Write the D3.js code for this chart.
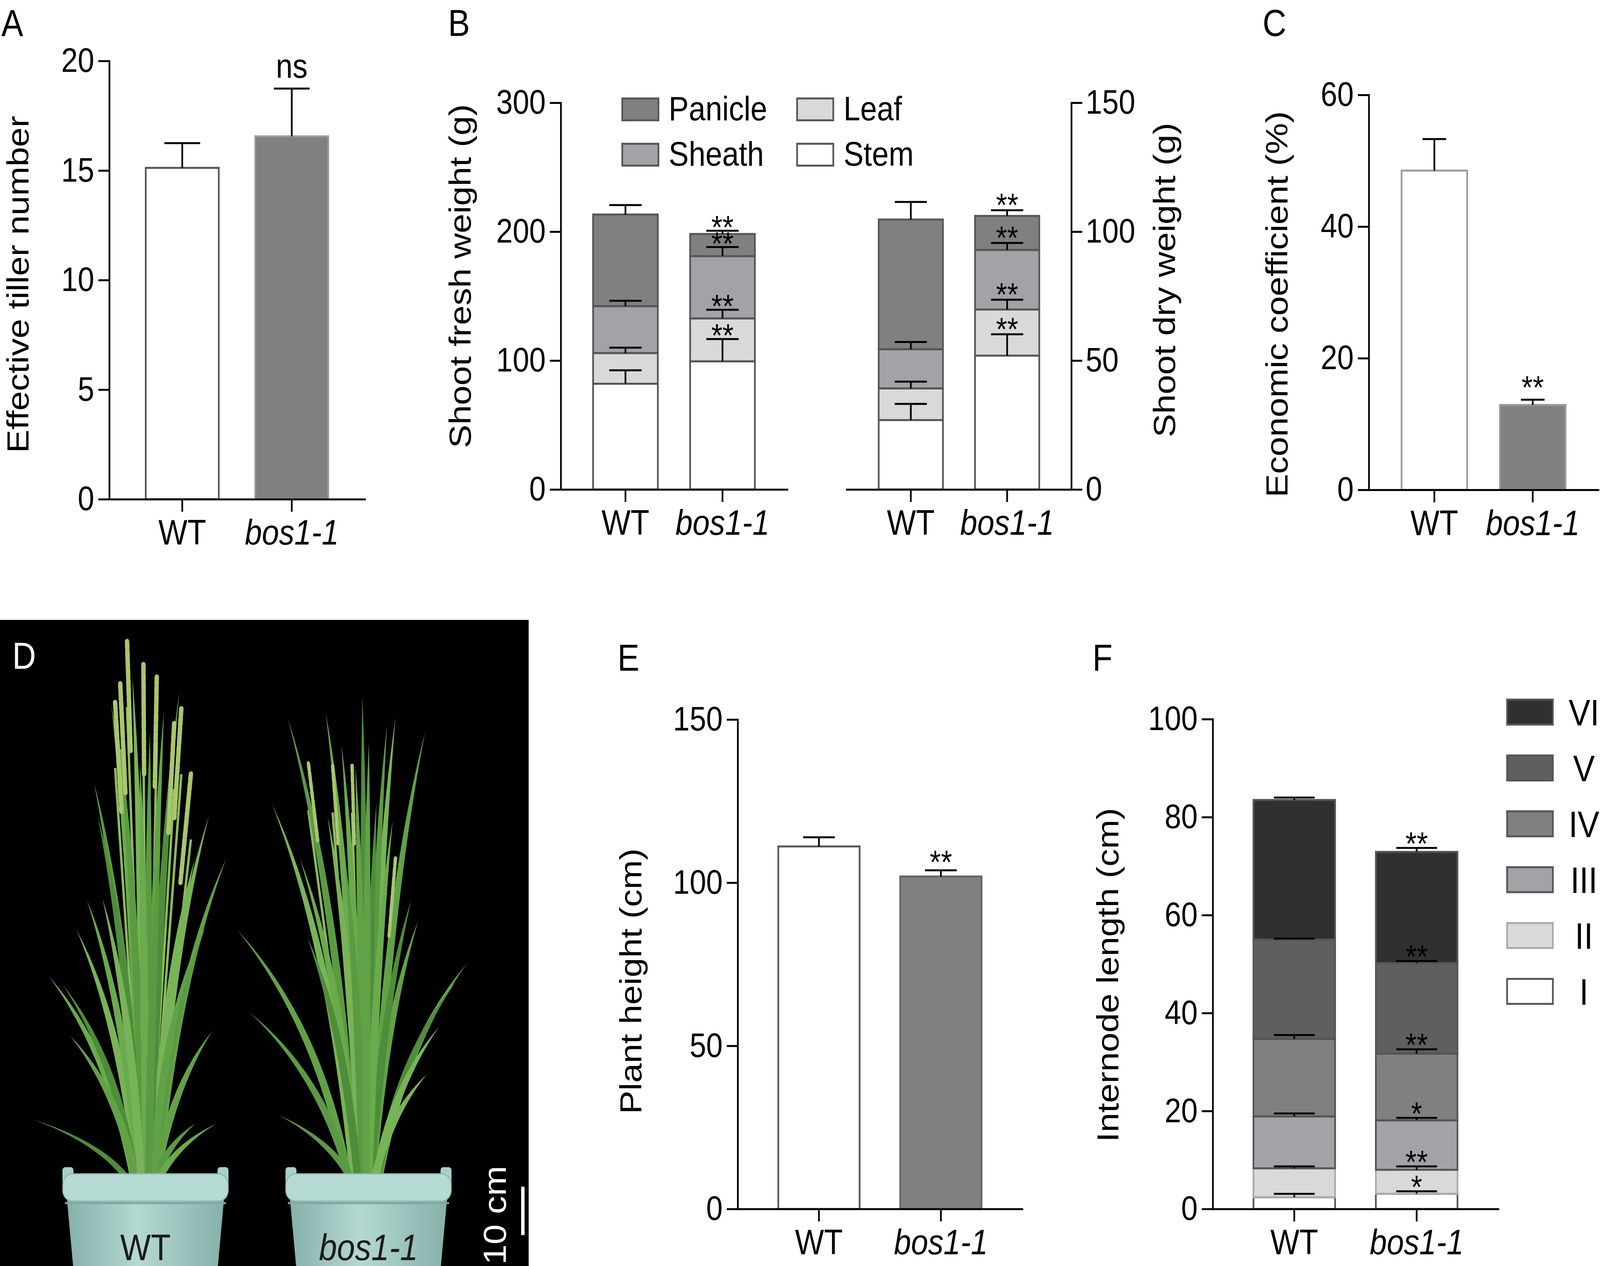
<!DOCTYPE html>
<html>
<head>
<meta charset="utf-8">
<title>bos1-1 phenotype figure</title>
<script src="https://cdn.jsdelivr.net/npm/d3@7"></script>
<style>
html, body { margin: 0; padding: 0; background: #fff; overflow: hidden; }
svg { display: block; width: 100vw; height: 100vh; font-family: "Liberation Sans", Arial, sans-serif; }
.axis path, .axis line { stroke: #000; stroke-width: 5; }
.axis path { stroke-linecap: square; }
.axis text { font-size: 87px; fill: #000; font-family: "Liberation Sans", Arial, sans-serif; }
.title { font-size: 90px; fill: #000; }
.letter { font-size: 96px; }
.sig { font-size: 84px; fill: #000; }
</style>
</head>
<body>
<!-- the window can be narrower than the figure, so the figure is stretched to fill it -->
<svg id="fig" viewBox="0 0 4685 3241" preserveAspectRatio="none"></svg>
<script>
// ---------- data ----------
var genotypes = ["WT", "bos1-1"];

// A  effective tillers
var tillerMean = [15.12, 16.56];
var tillerErr = [1.13, 2.18];
var tillerTicks = [0, 5, 10, 15, 20];

// B  shoot weight, segments bottom -> top
var organs = ["Stem", "Leaf", "Sheath", "Panicle"];
var freshWT = [82.0, 23.8, 36.4, 71.1];
var freshWTErr = [10.4, 4.2, 4.2, 7.3];
var freshBos = [99.4, 33.3, 48.3, 17.2];
var freshBosErr = [17.3, 6.7, 7.0, 2.5];
var freshBosSig = ["**", "**", "**", "**"];
var dryWT = [26.9, 12.3, 15.2, 50.3];
var dryWTErr = [6.3, 2.6, 2.8, 6.8];
var dryBos = [51.9, 17.9, 23.1, 13.2];
var dryBosErr = [8.3, 3.8, 2.7, 2.2];
var dryBosSig = ["**", "**", "**", "**"];
var freshTicks = [0, 100, 200, 300];
var dryTicks = [0, 50, 100, 150];

// C  economic coefficient
var ecoMean = [48.5, 12.9];
var ecoErr = [4.8, 0.8];
var ecoTicks = [0, 20, 40, 60];

// E  plant height
var heightMean = [111.1, 101.9];
var heightErr = [2.8, 1.9];
var heightTicks = [0, 50, 100, 150];

// F  internode length, I (bottom) -> VI (top)
var internodes = ["I", "II", "III", "IV", "V", "VI"];
var internodeWT = [2.4, 5.9, 10.6, 15.8, 20.3, 28.5];
var internodeWTErr = [0.7, 0.4, 0.6, 0.8, 0.2, 0.5];
var internodeBos = [3.1, 4.9, 10.1, 13.6, 18.5, 22.7];
var internodeBosErr = [0.5, 0.7, 0.5, 0.9, 0.4, 0.8];
var internodeBosSig = ["*", "**", "*", "**", "**", "**"];
var internodeTicks = [0, 20, 40, 60, 80, 100];

// ---------- styles ----------
var organFill = {Stem: "#ffffff", Leaf: "#d9d9d9", Sheath: "#a2a2a7", Panicle: "#808080"};
var nodeFill = {I: "#ffffff", II: "#d9d9d9", III: "#a2a2a7", IV: "#808080", V: "#5f5f5f", VI: "#303030"};
var nodeStroke = {I: "#555", II: "#aaa", III: "#555", IV: "#555", V: "#555", VI: "#555"};

var svg = d3.select("#fig");

// ---------- helpers ----------
function band(r0, r1) {
  return d3.scaleBand().domain(genotypes).range([r0, r1]).padding(0.333);
}

function leftAxis(y, ticks, x) {
  svg.append("g").attr("class", "axis")
    .attr("transform", "translate(" + x + ",0)")
    .call(d3.axisLeft(y).tickValues(ticks).tickSize(32).tickSizeOuter(0).tickPadding(12));
}

function rightAxis(y, ticks, x) {
  svg.append("g").attr("class", "axis")
    .attr("transform", "translate(" + x + ",0)")
    .call(d3.axisRight(y).tickValues(ticks).tickSize(32).tickSizeOuter(0).tickPadding(10));
}

function bottomAxis(xs, yPos) {
  var ax = svg.append("g").attr("class", "axis")
    .attr("transform", "translate(0," + yPos + ")")
    .call(d3.axisBottom(xs).tickSize(32).tickSizeOuter(0).tickPadding(20));
  ax.selectAll("text")
    .style("font-size", "90px")
    .style("font-style", function(d) { return d === "bos1-1" ? "italic" : "normal"; });
}

function yTitle(text, x, y) {
  svg.append("text").attr("class", "title")
    .attr("transform", "translate(" + x + "," + y + ") rotate(-90)")
    .attr("text-anchor", "middle")
    .text(text);
}

function letter(t, x, y, col) {
  svg.append("text").attr("class", "letter")
    .attr("x", x).attr("y", y)
    .attr("fill", col || "#000")
    .text(t);
}

function errorBar(g, cx, yTop, yErr, capW) {
  g.append("line").attr("x1", cx).attr("x2", cx).attr("y1", yTop).attr("y2", yErr)
    .attr("stroke", "#000").attr("stroke-width", 5);
  g.append("line").attr("x1", cx - capW / 2).attr("x2", cx + capW / 2).attr("y1", yErr).attr("y2", yErr)
    .attr("stroke", "#000").attr("stroke-width", 5);
}

function simpleBars(xs, y, means, errs, fills, strokes, capRatio) {
  var g = svg.append("g");
  g.selectAll("rect").data(means).join("rect")
    .attr("x", function(d, i) { return xs(genotypes[i]); })
    .attr("width", xs.bandwidth())
    .attr("y", function(d) { return y(d); })
    .attr("height", function(d) { return y(0) - y(d); })
    .attr("fill", function(d, i) { return fills[i]; })
    .attr("stroke", function(d, i) { return strokes[i]; })
    .attr("stroke-width", 5);
  means.forEach(function(m, i) {
    var cx = xs(genotypes[i]) + xs.bandwidth() / 2;
    errorBar(g, cx, y(m), y(m + errs[i]), xs.bandwidth() * capRatio);
  });
  return g;
}

function stackedBars(xs, y, keys, wt, wtErr, bos, bosErr, bosSig, fillMap, strokeMap, capRatio, sigOffset) {
  var rows = genotypes.map(function(gt, j) {
    var o = {genotype: gt};
    keys.forEach(function(k, i) { o[k] = j === 0 ? wt[i] : bos[i]; });
    return o;
  });
  var series = d3.stack().keys(keys)(rows);
  var g = svg.append("g");
  series.forEach(function(s) {
    g.selectAll(null).data(s).join("rect")
      .attr("x", function(d) { return xs(d.data.genotype); })
      .attr("width", xs.bandwidth())
      .attr("y", function(d) { return y(d[1]); })
      .attr("height", function(d) { return y(d[0]) - y(d[1]); })
      .attr("fill", fillMap[s.key])
      .attr("stroke", strokeMap ? strokeMap[s.key] : "#555")
      .attr("stroke-width", 5);
  });
  var errs = [wtErr, bosErr];
  series.forEach(function(s, i) {
    s.forEach(function(d, j) {
      var cx = xs(d.data.genotype) + xs.bandwidth() / 2;
      var yE = y(d[1] + errs[j][i]);
      errorBar(g, cx, y(d[1]), yE, xs.bandwidth() * capRatio);
      if (j === 1) {
        g.append("text").attr("class", "sig")
          .attr("x", cx).attr("y", yE + sigOffset)
          .attr("text-anchor", "middle")
          .text(bosSig[i]);
      }
    });
  });
}

function sigLabel(text, x, y, size) {
  svg.append("text").attr("class", "sig")
    .attr("x", x).attr("y", y).attr("text-anchor", "middle")
    .style("font-size", (size || 84) + "px")
    .text(text);
}

// ---------- panel A ----------
var xA = band(320, 1068);
var yA = d3.scaleLinear().domain([0, 20]).range([1278, 156]);
simpleBars(xA, yA, tillerMean, tillerErr, ["#fff", "#808080"], ["#555", "#9a9a9a"], 0.49);
leftAxis(yA, tillerTicks, 320);
bottomAxis(xA, 1278);
yTitle("Effective tiller number", 84, 728);
sigLabel("ns", xA("bos1-1") + xA.bandwidth() / 2, yA(tillerMean[1] + tillerErr[1]) - 28, 88);
letter("A", 4, 92);

// ---------- panel B ----------
var xB1 = band(1642, 2305);
var xB2 = band(2479, 3137);
var yFresh = d3.scaleLinear().domain([0, 300]).range([1253, 263]);
var yDry = d3.scaleLinear().domain([0, 150]).range([1253, 263]);
stackedBars(xB1, yFresh, organs, freshWT, freshWTErr, freshBos, freshBosErr, freshBosSig, organFill, null, 0.5, 20);
stackedBars(xB2, yDry, organs, dryWT, dryWTErr, dryBos, dryBosErr, dryBosSig, organFill, null, 0.5, 16);
leftAxis(yFresh, freshTicks, 1642);
bottomAxis(xB1, 1253);
bottomAxis(xB2, 1253);
rightAxis(yDry, dryTicks, 3137);
yTitle("Shoot fresh weight (g)", 1378, 707);
yTitle("Shoot dry weight (g)", 3440, 717);
letter("B", 1312, 92);

// legend B (two columns)
var legB = [
  {key: "Panicle", col: 0, row: 0}, {key: "Leaf", col: 1, row: 0},
  {key: "Sheath", col: 0, row: 1}, {key: "Stem", col: 1, row: 1}
];
var legBx = [1822, 2334], legBy = [252, 368];
var lb = svg.append("g").selectAll("g").data(legB).join("g")
  .attr("transform", function(d) { return "translate(" + legBx[d.col] + "," + legBy[d.row] + ")"; });
lb.append("rect").attr("width", 106).attr("height", 56)
  .attr("fill", function(d) { return organFill[d.key]; })
  .attr("stroke", "#555").attr("stroke-width", 5);
lb.append("text").attr("x", 136).attr("y", 56).style("font-size", "88px")
  .text(function(d) { return d.key; });

// ---------- panel C ----------
var xC = band(4008, 4680);
var yC = d3.scaleLinear().domain([0, 60]).range([1254, 243]);
simpleBars(xC, yC, ecoMean, ecoErr, ["#fff", "#808080"], ["#9a9a9a", "#9a9a9a"], 0.36);
leftAxis(yC, ecoTicks, 4008);
bottomAxis(xC, 1254);
yTitle("Economic coefficient (%)", 3770, 779);
sigLabel("**", xC("bos1-1") + xC.bandwidth() / 2, yC(ecoMean[1] + ecoErr[1]) - 2);
letter("C", 3697, 92);

// ---------- panel D (photo, drawn as illustration) ----------
var photo = svg.append("g");
var defs = svg.append("defs");
var grad = defs.append("linearGradient").attr("id", "bucketGrad");
grad.append("stop").attr("offset", "0%").attr("stop-color", "#86b0aa");
grad.append("stop").attr("offset", "45%").attr("stop-color", "#b4d8d2");
grad.append("stop").attr("offset", "100%").attr("stop-color", "#86b0aa");

photo.append("rect").attr("x", 0).attr("y", 1587).attr("width", 1548).attr("height", 1654).attr("fill", "#000");

var leafTipsWT = [[275,2003],[326,1803],[525,1771],[612,2089],[663,2197],[602,2370],[143,2499],[97,2866],
  [224,2380],[622,2639],[571,2877],[633,2877],[286,2089],[388,1733],[480,1820],[439,1874],[255,2305],
  [184,2521],[571,2197],[204,2650],[350,1900],[410,1950],[500,2000],[300,2300],[560,2450],[470,2150]];
var panicleTipsWT = [[372,1642],[420,1701],[352,1750],[459,1733],[531,1814],[559,1981],[510,1852],[337,1798]];
var leafTipsBos = [[842,1836],[954,1825],[1061,1782],[1158,1836],[1245,1874],[1133,1857],[1000,1906],[1102,2057],
  [796,2057],[694,2380],[730,2591],[1367,2467],[1337,2510],[1286,2629],[1224,2359],[816,2855],[878,2197],
  [1204,2305],[959,2089],[1041,1960],[1010,2200],[1150,2100],[900,2400],[1250,2750],[1080,1900]];
var panicleTipsBos = [[903,1954],[1031,1960],[974,1960],[1158,2197]];
var greens = ["#5b9a43", "#6aab4c", "#4f8d3a", "#78b457", "#62a247"];

function drawPlant(bx, by, leaves, panicles, panLen, panW) {
  var g = photo.append("g");
  // culms
  panicles.forEach(function(t) {
    g.append("line").attr("x1", bx + (t[0] - bx) * 0.1).attr("y1", by)
      .attr("x2", t[0]).attr("y2", t[1] + panLen * 0.6)
      .attr("stroke", "#8dbb5e").attr("stroke-width", 7);
  });
  leaves.forEach(function(t, i) {
    var b0 = bx + (t[0] - bx) * 0.12;
    var cx = b0 + (t[0] - b0) * 0.25, cy = by + (t[1] - by) * 0.62;
    var w = 10;
    var p = d3.path();
    p.moveTo(b0 - w, by);
    p.quadraticCurveTo(cx - w * 1.6, cy, t[0], t[1]);
    p.quadraticCurveTo(cx + w * 1.6, cy, b0 + w, by);
    p.closePath();
    g.append("path").attr("d", p.toString()).attr("fill", greens[i % greens.length]);
  });
  panicles.forEach(function(t) {
    var bxx = bx + (t[0] - bx) * 0.1;
    var len = Math.hypot(t[0] - bxx, t[1] - by);
    var ux = (bxx - t[0]) / len, uy = (by - t[1]) / len;
    g.append("line").attr("x1", t[0]).attr("y1", t[1])
      .attr("x2", t[0] + ux * panLen).attr("y2", t[1] + uy * panLen)
      .attr("stroke", "#a9c66e").attr("stroke-width", panW).attr("stroke-linecap", "round")
      .attr("stroke-dasharray", "18 6");
  });
}

function drawBucket(cx, label, italic) {
  var g = photo.append("g");
  g.append("path")
    .attr("d", "M" + (cx - 232) + ",3050L" + (cx + 232) + ",3050L" + (cx + 212) + ",3241L" + (cx - 212) + ",3241Z")
    .attr("fill", "url(#bucketGrad)");
  [-1, 1].forEach(function(s) {
    g.append("rect").attr("x", cx + s * 227 - 16).attr("y", 2988).attr("width", 32).attr("height", 60)
      .attr("rx", 8).attr("fill", "#a9d0ca");
  });
  g.append("rect").attr("x", cx - 242).attr("y", 3005).attr("width", 484).attr("height", 70)
    .attr("rx", 28).attr("fill", "#b6dad4").attr("stroke", "#8db7b1").attr("stroke-width", 3);
  g.append("line").attr("x1", cx - 236).attr("x2", cx + 236).attr("y1", 3080).attr("y2", 3080)
    .attr("stroke", "#7fa7a1").attr("stroke-width", 5);
  g.append("text").attr("x", cx).attr("y", 3226).attr("text-anchor", "middle")
    .style("font-size", "95px").style("font-style", italic ? "italic" : "normal")
    .attr("fill", "#1b1b1b").text(label);
}

drawPlant(430, 3040, leafTipsWT, panicleTipsWT, 280, 13);
drawPlant(1070, 3040, leafTipsBos, panicleTipsBos, 200, 10);
drawBucket(426, "WT", false);
drawBucket(1079, "bos1-1", true);

photo.append("line").attr("x1", 1531).attr("x2", 1531).attr("y1", 3038).attr("y2", 3162)
  .attr("stroke", "#fff").attr("stroke-width", 10);
photo.append("text").attr("transform", "translate(1481,3111) rotate(-90)")
  .attr("text-anchor", "middle").style("font-size", "93px").attr("fill", "#fff").text("10 cm");
letter("D", 36, 1712, "#fff");

// ---------- panel E ----------
var xE = band(2160, 2993);
var yE = d3.scaleLinear().domain([0, 150]).range([3095, 1842]);
simpleBars(xE, yE, heightMean, heightErr, ["#fff", "#808080"], ["#555", "#666"], 0.39);
leftAxis(yE, heightTicks, 2160);
bottomAxis(xE, 3095);
yTitle("Plant height (cm)", 1878, 2512);
sigLabel("**", xE("bos1-1") + xE.bandwidth() / 2, yE(heightMean[1] + heightErr[1]) + 8);
letter("E", 1808, 1717);

// ---------- panel F ----------
var xF = band(3551, 4387);
var yF = d3.scaleLinear().domain([0, 100]).range([3095, 1841]);
stackedBars(xF, yF, internodes, internodeWT, internodeWTErr, internodeBos, internodeBosErr, internodeBosSig,
  nodeFill, nodeStroke, 0.5, 18);
leftAxis(yF, internodeTicks, 3551);
bottomAxis(xF, 3095);
yTitle("Internode length (cm)", 3275, 2496);
letter("F", 3199, 1717);

// legend F, VI on top
var legF = internodes.slice().reverse();
var lf = svg.append("g").selectAll("g").data(legF).join("g")
  .attr("transform", function(d, i) { return "translate(4413," + (1823 + i * 143) + ")"; });
lf.append("rect").attr("y", -32).attr("width", 134).attr("height", 64)
  .attr("fill", function(d) { return nodeFill[d]; })
  .attr("stroke", function(d) { return nodeStroke[d]; }).attr("stroke-width", 5);
lf.append("text").attr("x", 225).attr("y", 34).attr("text-anchor", "middle")
  .style("font-size", "95px").text(function(d) { return d; });
</script>
</body>
</html>
